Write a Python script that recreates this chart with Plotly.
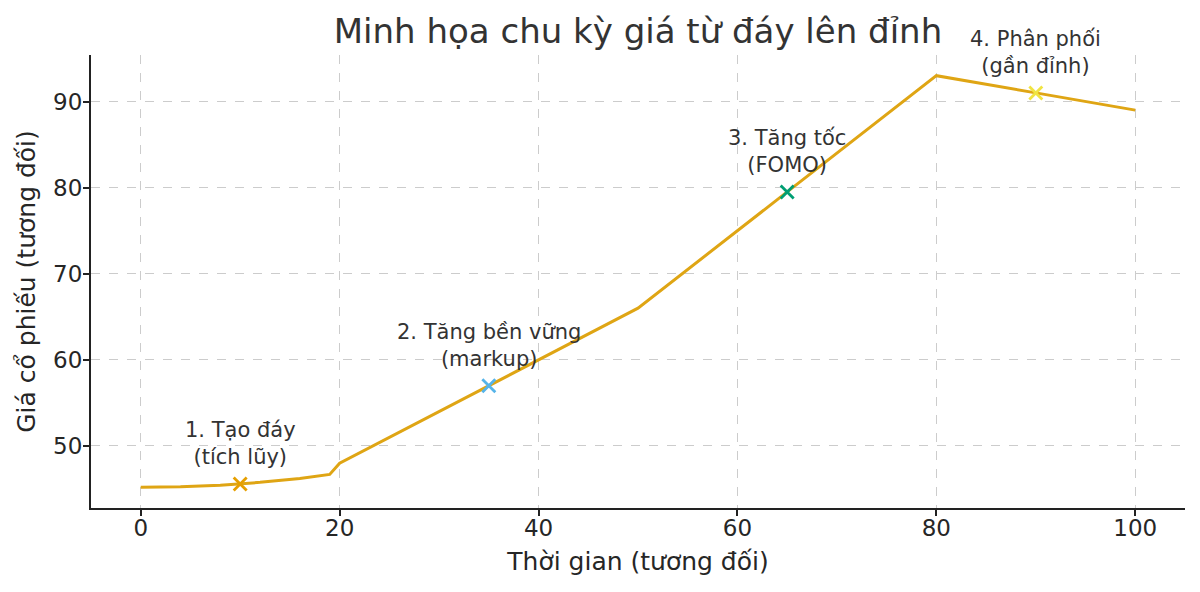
import plotly.graph_objects as go

# price path (relative units)
time_x = [0, 4, 8, 10, 12, 16, 19, 20, 35, 50, 65, 80, 90, 100]
price_y = [45.2, 45.26, 45.45, 45.6, 45.78, 46.22, 46.7, 48.0, 57.0, 66.0, 79.5, 93.0, 91.0, 89.0]

# phase markers
phase_x = [10, 35, 65, 90]
phase_y = [45.6, 57.0, 79.5, 91.0]
phase_colors = ["#E69F00", "#56B4E9", "#009E73", "#F0E442"]
phase_labels = [
    "1. Tạo đáy<br>(tích lũy)",
    "2. Tăng bền vững<br>(markup)",
    "3. Tăng tốc<br>(FOMO)",
    "4. Phân phối<br>(gần đỉnh)",
]
label_offset = 1.45

x_ticks = [0, 20, 40, 60, 80, 100]
y_ticks = [50, 60, 70, 80, 90]

FONT = "DejaVu Sans"

fig = go.Figure()
fig.add_trace(go.Scatter(
    x=time_x, y=price_y, mode="lines",
    line=dict(color="#DFA514", width=3),
    hoverinfo="skip", showlegend=False,
))
fig.add_trace(go.Scatter(
    x=phase_x, y=phase_y, mode="markers",
    marker=dict(symbol="x-thin", size=13, color=phase_colors,
                line=dict(width=2.8, color=phase_colors)),
    showlegend=False,
))

for px_, py_, txt in zip(phase_x, phase_y, phase_labels):
    fig.add_annotation(
        x=px_, y=py_ + label_offset, text=txt, showarrow=False,
        xanchor="center", yanchor="bottom",
        font=dict(family=FONT, size=21, color="#333333"),
    )

axis_common = dict(
    showline=True, linecolor="#222222", linewidth=2,
    ticks="outside", ticklen=6, tickwidth=1.5, tickcolor="#222222",
    showgrid=True, gridcolor="#cccccc", griddash="dash", gridwidth=1,
    zeroline=False, mirror=False,
    tickfont=dict(family=FONT, size=23, color="#262626"),
)

fig.update_xaxes(
    range=[-5, 105], tickvals=x_ticks, ticklabelstandoff=-8,
    title=dict(text="Thời gian (tương đối)", font=dict(family=FONT, size=25, color="#262626"), standoff=13),
    **axis_common,
)
fig.update_yaxes(
    range=[42.8, 95.4], tickvals=y_ticks, ticklabelstandoff=-4,
    title=dict(text="Giá cổ phiếu (tương đối)", font=dict(family=FONT, size=25, color="#262626"), standoff=10),
    **axis_common,
)

# the page body adds an 8px margin, so the figure is shrunk to keep the plot area in place
fig.update_layout(
    width=1192, height=584,
    margin=dict(l=83, r=15, t=47, b=84),
    paper_bgcolor="white", plot_bgcolor="white",
    title=dict(
        text="Minh họa chu kỳ giá từ đáy lên đỉnh",
        x=0.5, xref="paper", xanchor="center",
        y=1 - 23 / 584, yref="container", yanchor="middle",
        font=dict(family=FONT, size=34, color="#333333"),
    ),
)

fig.write_html("out.html")
